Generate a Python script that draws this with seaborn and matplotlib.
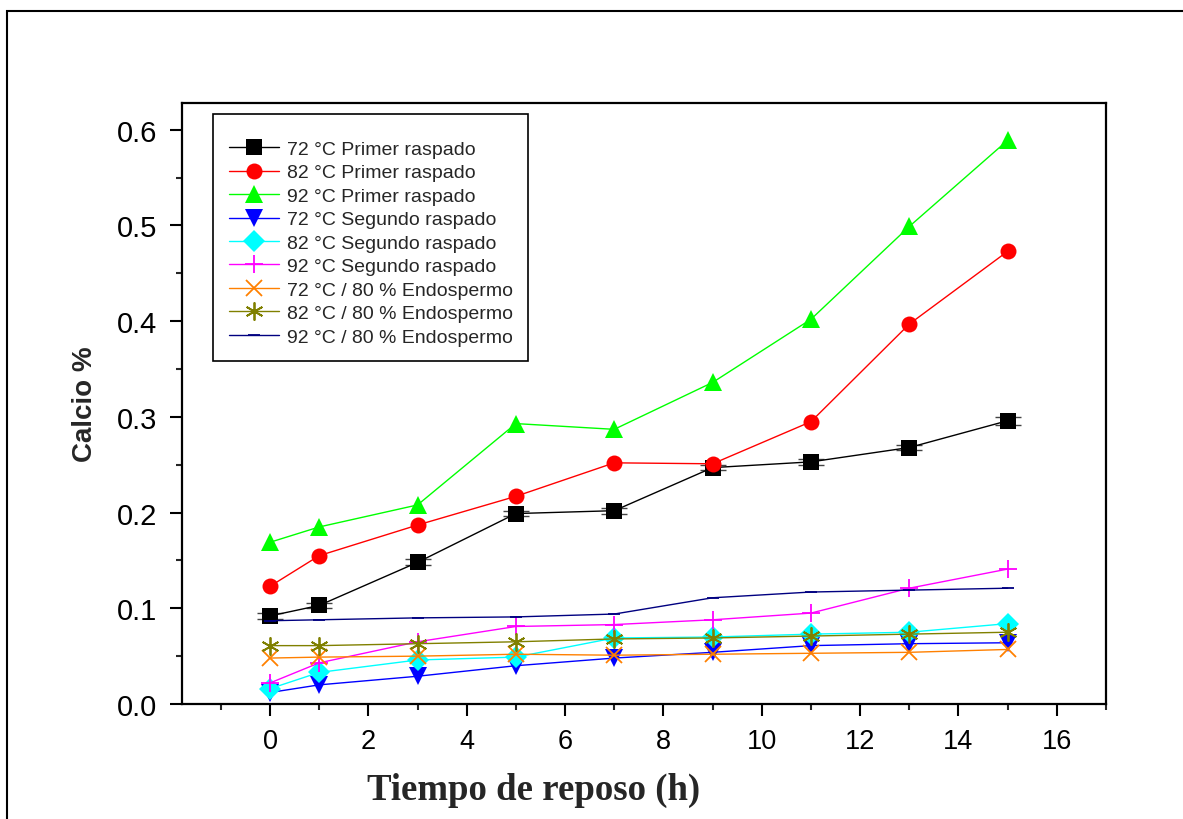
import numpy as np
import pandas as pd
import matplotlib
matplotlib.use("Agg")
import matplotlib.pyplot as plt
import seaborn as sns
from matplotlib.ticker import MultipleLocator
from matplotlib.patches import Rectangle

# Tiempo de reposo (h)
tiempo = [0, 1, 3, 5, 7, 9, 11, 13, 15]

# Calcio % por serie
p72 = [0.092, 0.103, 0.148, 0.199, 0.202, 0.247, 0.253, 0.268, 0.296]
p72_err = [0.003, 0.003, 0.003, 0.003, 0.003, 0.003, 0.003, 0.003, 0.004]
p82 = [0.123, 0.155, 0.187, 0.217, 0.252, 0.251, 0.295, 0.397, 0.473]
p92 = [0.169, 0.185, 0.208, 0.293, 0.287, 0.336, 0.402, 0.499, 0.589]
s72 = [0.012, 0.020, 0.029, 0.040, 0.048, 0.054, 0.061, 0.063, 0.064]
s82 = [0.016, 0.033, 0.046, 0.049, 0.069, 0.070, 0.073, 0.075, 0.084]
s92 = [0.022, 0.043, 0.065, 0.081, 0.083, 0.088, 0.095, 0.121, 0.141]
e72 = [0.048, 0.049, 0.050, 0.052, 0.051, 0.052, 0.053, 0.054, 0.057]
e82 = [0.061, 0.061, 0.063, 0.065, 0.068, 0.069, 0.071, 0.073, 0.075]
e92 = [0.087, 0.088, 0.090, 0.091, 0.094, 0.111, 0.117, 0.119, 0.121]

labels = ["72 °C Primer raspado", "82 °C Primer raspado", "92 °C Primer raspado",
          "72 °C Segundo raspado", "82 °C Segundo raspado", "92 °C Segundo raspado",
          "72 °C / 80 % Endospermo", "82 °C / 80 % Endospermo", "92 °C / 80 % Endospermo"]
series = [p72, p82, p92, s72, s82, s92, e72, e82, e92]
colores = ["black", "#FF0000", "#00FF00", "#0000FF", "#00FFFF", "#FF00FF",
           "#FF8000", "#808000", "#000080"]
marcadores = ["s", "o", "^", "v", "D", "+", "x", (6, 2, 0), "_"]
tamanos = [11, 11.5, 12.5, 12.5, 11, 13, 12, 13, 9]

sns.set_style("ticks")
plt.rcParams["font.family"] = ["Liberation Sans", "DejaVu Sans"]

fig = plt.figure(figsize=(11.83, 8.2), dpi=100)
ax = fig.add_axes([182 / 1183, 115 / 820, 924 / 1183, 601 / 820])

# outer frame of the figure
fig.patches.append(Rectangle((7 / 1183, -0.1), 1.2, (808 / 820) + 0.1,
                             transform=fig.transFigure, fill=False,
                             edgecolor="black", linewidth=1.5))

ax.errorbar(tiempo, p72, yerr=p72_err, fmt="none", ecolor="#444444",
            elinewidth=1, capsize=9.5, capthick=1, zorder=2)

for y, lab, c, m, ms in zip(series, labels, colores, marcadores, tamanos):
    df = pd.DataFrame({"t": tiempo, "ca": y})
    mew = 1.3 if m in ["+", "x", (6, 2, 0), "_"] else 0
    sns.lineplot(data=df, x="t", y="ca", ax=ax, color=c, marker=m,
                 markersize=ms, markeredgewidth=mew, markeredgecolor=c,
                 linewidth=1, label=lab, zorder=3)

ax.set_xlim(-1.79, 17.0)
ax.set_ylim(0, 0.628)
ax.xaxis.set_major_locator(MultipleLocator(2))
ax.xaxis.set_minor_locator(MultipleLocator(1))
ax.yaxis.set_major_locator(MultipleLocator(0.1))
ax.yaxis.set_minor_locator(MultipleLocator(0.05))
ax.yaxis.set_major_formatter(matplotlib.ticker.FormatStrFormatter("%.1f"))

for s in ax.spines.values():
    s.set_linewidth(1.6)
    s.set_color("black")
ax.tick_params(axis="x", which="major", length=8.6, width=1.5, direction="out",
               labelsize=19.5, pad=9, colors="black")
ax.tick_params(axis="x", which="minor", length=4.3, width=1.5, direction="out")
ax.tick_params(axis="y", which="major", length=8.6, width=1.5, direction="out",
               labelsize=21, pad=9, colors="black")
ax.tick_params(axis="y", which="minor", length=4.3, width=1.5, direction="out")

ax.set_xlabel("")
ax.set_ylabel("Calcio %", fontsize=20, fontweight="bold", labelpad=14)
fig.text(534 / 1183, 30 / 820, "Tiempo de reposo (h)", ha="center", va="center",
         fontsize=26.5, fontweight="bold", family=["Liberation Serif", "DejaVu Serif"])

leg = ax.legend(loc="upper left", bbox_to_anchor=(0.0335, 0.9817),
                borderaxespad=0, fontsize=14, frameon=True, fancybox=False,
                framealpha=1, edgecolor="black", handlelength=2.6,
                labelspacing=0.3, borderpad=0.8, handletextpad=0.4,
                title=" ", title_fontsize=4)
leg.get_frame().set_linewidth(1.2)

fig.savefig("out.png", dpi=100)
